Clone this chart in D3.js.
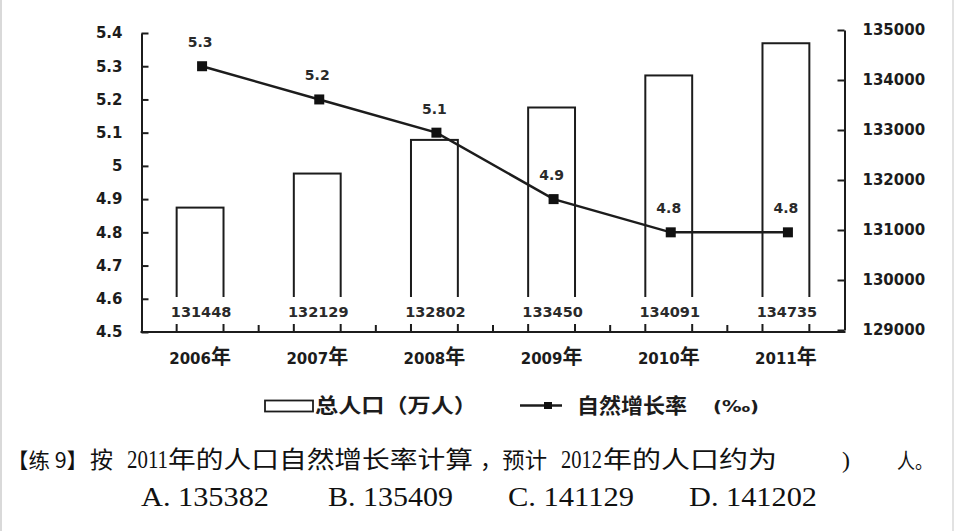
<!DOCTYPE html>
<html>
<head>
<meta charset="utf-8">
<script src="https://cdn.jsdelivr.net/npm/d3@7"></script>
<style>
  html, body { margin: 0; padding: 0; background: #fff; }
  svg { display: block; }
</style>
</head>
<body>
<svg id="chart" width="960" height="531"></svg>
<script>
// ---- data ----
const years = ["2006", "2007", "2008", "2009", "2010", "2011"];
const population = [131448, 132129, 132802, 133450, 134091, 134735];
const growthRate = [5.3, 5.2, 5.1, 4.9, 4.8, 4.8];
const leftTicks = [4.5, 4.6, 4.7, 4.8, 4.9, 5.0, 5.1, 5.2, 5.3, 5.4];
const rightTicks = [129000, 130000, 131000, 132000, 133000, 134000, 135000];
const legendLabels = ["总人口（万人）", "自然增长率", "(‰)"];
const questionParts = ["【练 9】", "按", "2011", "年的人口自然增长率计算", "，预计", "2012", "年的人口约为", ")", "人。"];
const optionLabels = ["A.  135382", "B.  135409", "C.  141129", "D.  141202"];

const svg = d3.select("#chart");
const numFont = "'DejaVu Sans', Verdana, sans-serif";
const cjkFont = "'Noto Sans CJK SC', sans-serif";
const serifFont = "'Liberation Serif', 'Noto Sans CJK SC', serif";
const ink = "#1c1c1c";

// page side borders
svg.append("line").attr("x1", 1).attr("x2", 1).attr("y1", 0).attr("y2", 531)
  .attr("stroke", "#d9d9d9").attr("stroke-width", 2);
svg.append("line").attr("x1", 953).attr("x2", 953).attr("y1", 0).attr("y2", 531)
  .attr("stroke", "#e2e2e2").attr("stroke-width", 2);

const xL = 141.5, xR = 844.5, baseY = 332;
const x = d3.scaleBand().domain(years).range([xL, xR]).paddingInner(0.6).paddingOuter(0.3);
const yL = d3.scaleLinear().domain([4.5, 5.4]).range([332, 33]);
const yR = d3.scaleLinear().domain([129000, 135000]).range([330, 30]);
const step = x.step(), bw = x.bandwidth();
const cx = d => x(d) + bw / 2;

// bars
svg.append("g").selectAll("rect").data(years).join("rect")
  .attr("x", d => x(d)).attr("width", bw)
  .attr("y", (d, i) => yR(population[i]))
  .attr("height", (d, i) => baseY - yR(population[i]))
  .attr("fill", "#fff").attr("stroke", ink).attr("stroke-width", 2);

// white boxes behind bar value labels
svg.append("g").selectAll("rect").data(years).join("rect")
  .attr("x", d => cx(d) - 34).attr("width", 68)
  .attr("y", 297).attr("height", 27)
  .attr("fill", "#fff");

svg.append("g").selectAll("text").data(years).join("text")
  .attr("x", d => cx(d) + 1).attr("y", 317)
  .attr("text-anchor", "middle")
  .attr("font-family", numFont).attr("font-weight", "bold").attr("font-size", 14.5)
  .attr("fill", "#2a2a2a")
  .text((d, i) => population[i]);

// left axis
const gL = svg.append("g").attr("transform", `translate(${xL},0)`)
  .call(d3.axisLeft(yL).tickValues(leftTicks).tickSizeInner(-7).tickSizeOuter(0).tickPadding(19)
    .tickFormat(d => d === 5 ? "5" : d3.format(".1f")(d)));
gL.select(".domain").attr("stroke", ink).attr("stroke-width", 2);
gL.selectAll(".tick line").attr("stroke", ink).attr("stroke-width", 2);
gL.selectAll(".tick text").attr("font-family", numFont).attr("font-weight", "bold")
  .attr("font-size", 15).attr("fill", ink);

// right axis
const gR = svg.append("g").attr("transform", `translate(${xR},0)`)
  .call(d3.axisRight(yR).tickValues(rightTicks).tickSizeInner(-7).tickSizeOuter(0).tickPadding(18)
    .tickFormat(d3.format("d")));
gR.select(".domain").attr("stroke", ink).attr("stroke-width", 2);
gR.selectAll(".tick line").attr("stroke", ink).attr("stroke-width", 2);
gR.selectAll(".tick text").attr("font-family", numFont).attr("font-weight", "bold")
  .attr("font-size", 15).attr("fill", ink);

// x axis line + boundary ticks
svg.append("line").attr("x1", xL - 1).attr("x2", xR + 1).attr("y1", baseY).attr("y2", baseY)
  .attr("stroke", ink).attr("stroke-width", 2);
svg.append("g").selectAll("line").data(years.slice(1)).join("line")
  .attr("x1", d => cx(d) - step / 2).attr("x2", d => cx(d) - step / 2)
  .attr("y1", baseY).attr("y2", baseY - 7)
  .attr("stroke", ink).attr("stroke-width", 2);

// year labels
const yl = svg.append("g").selectAll("text").data(years).join("text")
  .attr("x", d => cx(d)).attr("y", 364)
  .attr("text-anchor", "middle").attr("fill", ink);
yl.append("tspan").attr("font-family", numFont).attr("font-weight", "bold").attr("font-size", 15)
  .text(d => d);
yl.append("tspan").attr("font-family", cjkFont).attr("font-weight", "bold").attr("font-size", 20)
  .text("年");

// line
const line = d3.line().x(d => cx(d) + 2).y((d, i) => yL(growthRate[i]));
svg.append("path").datum(years).attr("d", line)
  .attr("fill", "none").attr("stroke", ink).attr("stroke-width", 2.5);
svg.append("g").selectAll("rect").data(years).join("rect")
  .attr("x", d => cx(d) + 2 - 5).attr("y", (d, i) => yL(growthRate[i]) - 5)
  .attr("width", 10).attr("height", 10).attr("fill", "#111");
svg.append("g").selectAll("text").data(years).join("text")
  .attr("x", d => cx(d)).attr("y", (d, i) => yL(growthRate[i]) - 19)
  .attr("text-anchor", "middle")
  .attr("font-family", numFont).attr("font-weight", "bold").attr("font-size", 14)
  .attr("fill", "#2a2a2a")
  .text((d, i) => growthRate[i]);

// legend
const lg = svg.append("g");
lg.append("rect").attr("x", 265).attr("y", 400.5).attr("width", 48).attr("height", 11)
  .attr("fill", "#fff").attr("stroke", ink).attr("stroke-width", 1.8);
lg.append("text").attr("x", 315).attr("y", 413).attr("font-family", cjkFont).attr("font-weight", "bold")
  .attr("font-size", 20).attr("fill", ink)
  .attr("textLength", 162).attr("lengthAdjust", "spacingAndGlyphs").text(legendLabels[0]);
lg.append("line").attr("x1", 520).attr("x2", 562).attr("y1", 405.5).attr("y2", 405.5)
  .attr("stroke", ink).attr("stroke-width", 2.5);
lg.append("rect").attr("x", 544).attr("y", 402).attr("width", 8).attr("height", 7).attr("fill", "#111");
lg.append("text").attr("x", 577).attr("y", 413).attr("font-family", cjkFont).attr("font-weight", "bold")
  .attr("font-size", 21).attr("fill", ink)
  .attr("textLength", 110).attr("lengthAdjust", "spacingAndGlyphs").text(legendLabels[1]);
lg.append("text").attr("x", 713).attr("y", 412).attr("font-family", numFont).attr("font-weight", "bold")
  .attr("font-size", 15).attr("fill", ink)
  .attr("textLength", 46).attr("lengthAdjust", "spacingAndGlyphs").text(legendLabels[2]);

// question text (one text element per segment)
const qPos = [[7, 81], [90, 23], [127, 41], [168, 305], [480, 67], [561, 41], [603, 174], [842, 8], [897, 36]];
const qSize = [21, 23, 20, 24, 22, 20, 24, 24, 21];
const isNum = d => /^[0-9)]+$/.test(d);
svg.append("g").selectAll("text").data(questionParts).join("text")
  .attr("transform", (d, i) => `translate(${qPos[i][0]},468)` + (isNum(d) && d !== ")" ? " scale(1,1.3)" : ""))
  .attr("fill", "#111")
  .attr("font-family", d => isNum(d) ? serifFont : "'Noto Sans CJK SC', serif")
  .attr("font-size", (d, i) => qSize[i])
  .attr("textLength", (d, i) => qPos[i][1]).attr("lengthAdjust", "spacingAndGlyphs")
  .text(d => d);

// options
const oPos = [[141, 128], [328, 125], [508, 126], [689, 128]];
svg.append("g").selectAll("text").data(optionLabels).join("text")
  .attr("x", (d, i) => oPos[i][0]).attr("y", 506)
  .attr("font-family", serifFont).attr("font-size", 28).attr("fill", "#111")
  .attr("textLength", (d, i) => oPos[i][1]).attr("lengthAdjust", "spacingAndGlyphs")
  .text(d => d);
</script>
</body>
</html>
